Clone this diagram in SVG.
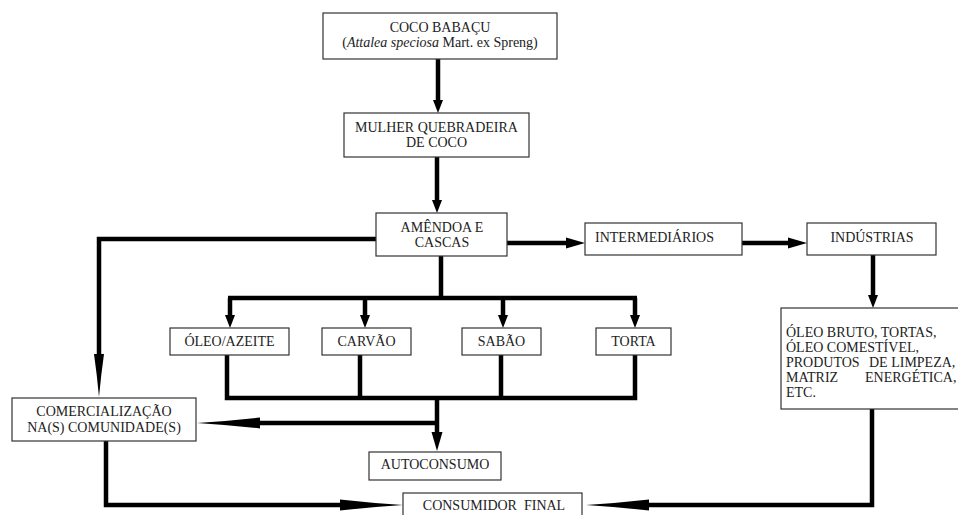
<svg xmlns="http://www.w3.org/2000/svg" width="958" height="515" viewBox="0 0 958 515">
<style>
.box{fill:#fff;stroke:#333;stroke-width:1.2}
text{font-family:'Liberation Serif','DejaVu Serif','Times New Roman',serif;font-size:14px;fill:#222}
.c{text-anchor:middle}
.ln{fill:none;stroke:#000;stroke-width:4.5;stroke-linejoin:miter}
</style>
<defs>
<marker id="hs" markerUnits="userSpaceOnUse" orient="auto" refX="0" refY="0" markerWidth="14" markerHeight="12" style="overflow:visible"><path d="M-1,-5 L12,0 L-1,5 z" fill="#000"/></marker>
<marker id="hm" markerUnits="userSpaceOnUse" orient="auto" refX="0" refY="0" markerWidth="20" markerHeight="12" style="overflow:visible"><path d="M-1,-5.5 L18,0 L-1,5.5 z" fill="#000"/></marker>
<marker id="hl" markerUnits="userSpaceOnUse" orient="auto" refX="0" refY="0" markerWidth="64" markerHeight="12" style="overflow:visible"><path d="M-1,-5.5 Q30,-2 62,0 Q30,2 -1,5.5 z" fill="#000"/></marker>
<marker id="hv" markerUnits="userSpaceOnUse" orient="auto" refX="0" refY="0" markerWidth="44" markerHeight="12" style="overflow:visible"><path d="M-1,-5 Q20,-2 42,0 Q20,2 -1,5 z" fill="#000"/></marker>
</defs>
<g id="connectors">
<path class="ln" d="M438,59 V101" marker-end="url(#hs)"/>
<path class="ln" d="M437,157 V201" marker-end="url(#hs)"/>
<path class="ln" d="M507,243 H567" marker-end="url(#hm)"/>
<path class="ln" d="M742,243 H789" marker-end="url(#hm)"/>
<path class="ln" d="M873,255 V296" marker-end="url(#hs)"/>
<path class="ln" d="M376,239 H99 V355" marker-end="url(#hv)"/>
<path class="ln" d="M441,256 V298"/>
<path class="ln" d="M228,298 H637"/>
<path class="ln" d="M230,298 V316" marker-end="url(#hs)"/>
<path class="ln" d="M365,298 V316" marker-end="url(#hs)"/>
<path class="ln" d="M503,298 V316" marker-end="url(#hs)"/>
<path class="ln" d="M635,298 V316" marker-end="url(#hs)"/>
<path class="ln" d="M227,355 V398 H635 V355"/>
<path class="ln" d="M360,355 V398"/>
<path class="ln" d="M501,355 V398"/>
<path class="ln" d="M437,398 V433" marker-end="url(#hm)"/>
<path class="ln" d="M437,423 H259" marker-end="url(#hl)"/>
<path class="ln" d="M106,441 V505 H341" marker-end="url(#hl)"/>
<path class="ln" d="M872,409 V505 H648" marker-end="url(#hl)"/>
</g>
<g id="coco">
<rect class="box" x="323" y="13" width="234" height="46"/>
<text class="c" x="440" y="32">COCO BABAÇU</text>
<text class="c" x="440" y="47">(<tspan font-style="italic">Attalea speciosa</tspan> Mart. ex Spreng)</text>
</g>
<g id="mulher">
<rect class="box" x="344" y="113" width="185" height="44"/>
<text class="c" x="436.5" y="132">MULHER QUEBRADEIRA</text>
<text class="c" x="436.5" y="147">DE COCO</text>
</g>
<g id="amendoa">
<rect class="box" x="376" y="213" width="131" height="43"/>
<text class="c" x="442" y="232">AMÊNDOA E</text>
<text class="c" x="442" y="247">CASCAS</text>
</g>
<g id="intermediarios">
<rect class="box" x="585" y="223" width="157" height="32"/>
<text x="595" y="242">INTERMEDIÁRIOS</text>
</g>
<g id="industrias">
<rect class="box" x="807" y="223" width="129" height="32"/>
<text class="c" x="872" y="242">INDÚSTRIAS</text>
</g>
<g id="oleobruto">
<rect class="box" x="781" y="308" width="185" height="101"/>
<text x="786" y="337">ÓLEO BRUTO, TORTAS,</text>
<text x="786" y="352">ÓLEO COMESTÍVEL,</text>
<text x="786" y="367">PRODUTOS <tspan x="869">DE LIMPEZA,</tspan></text>
<text x="786" y="382">MATRIZ <tspan x="865">ENERGÉTICA,</tspan></text>
<text x="786" y="397">ETC.</text>
</g>
<g id="oleoazeite">
<rect class="box" x="170" y="328" width="119" height="27"/>
<text class="c" x="229.5" y="346">ÓLEO/AZEITE</text>
</g>
<g id="carvao">
<rect class="box" x="322" y="328" width="89" height="27"/>
<text class="c" x="366.5" y="346">CARVÃO</text>
</g>
<g id="sabao">
<rect class="box" x="462" y="328" width="79" height="27"/>
<text class="c" x="501.5" y="346">SABÃO</text>
</g>
<g id="torta">
<rect class="box" x="596" y="328" width="75" height="27"/>
<text class="c" x="633.5" y="346">TORTA</text>
</g>
<g id="comercializacao">
<rect class="box" x="12" y="398" width="184" height="43"/>
<text class="c" x="104" y="416">COMERCIALIZAÇÃO</text>
<text class="c" x="104" y="432">NA(S) COMUNIDADE(S)</text>
</g>
<g id="autoconsumo">
<rect class="box" x="369" y="452" width="132" height="28"/>
<text class="c" x="435" y="469">AUTOCONSUMO</text>
</g>
<g id="consumidor">
<rect class="box" x="403" y="493" width="179" height="30"/>
<text class="c" x="494" y="510" xml:space="preserve">CONSUMIDOR  FINAL</text>
</g>
</svg>
